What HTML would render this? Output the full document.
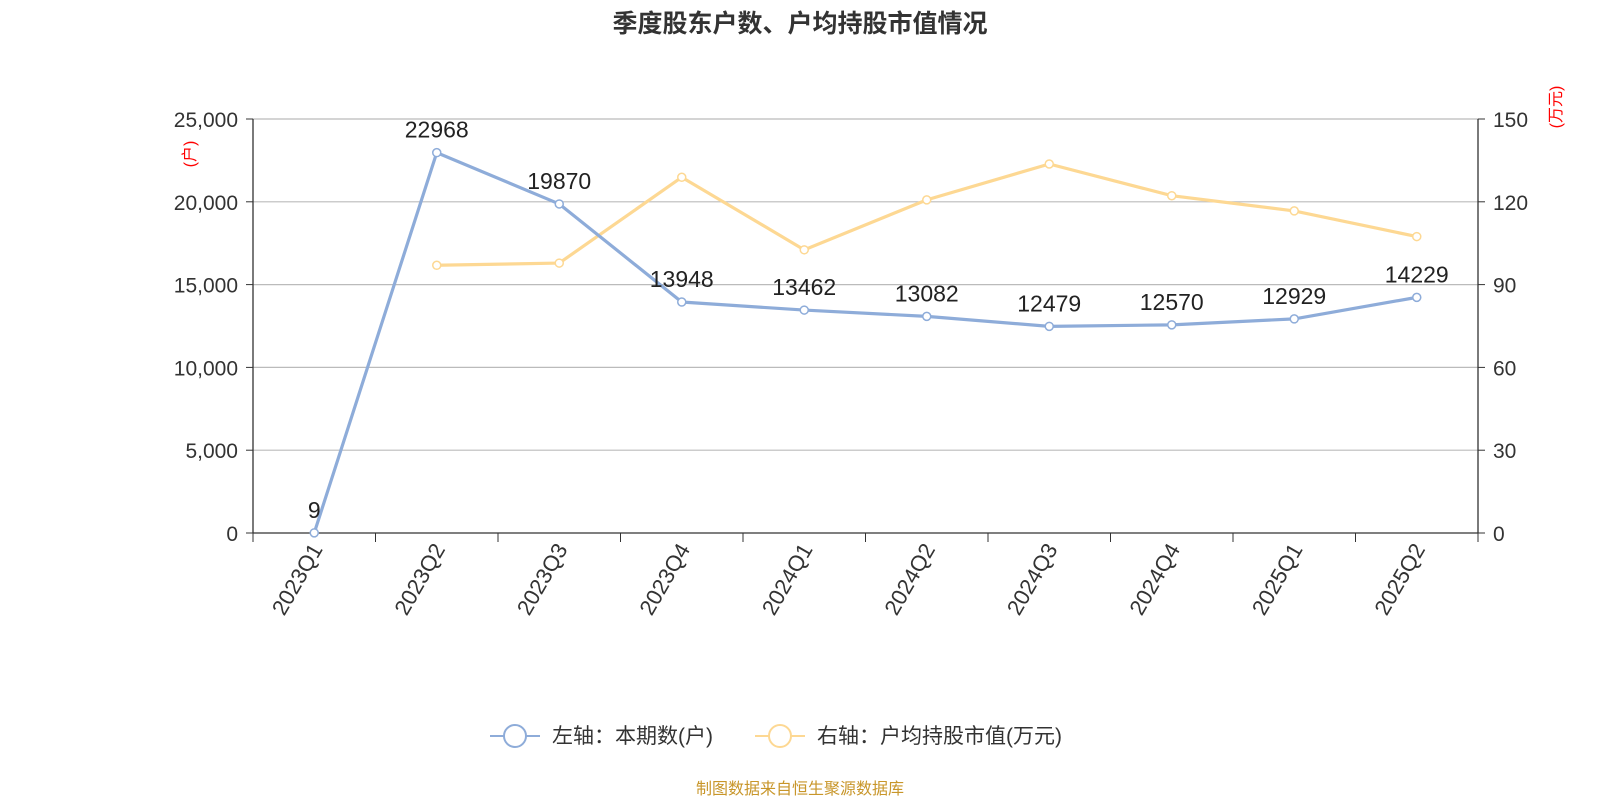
<!DOCTYPE html>
<html><head><meta charset="utf-8"><style>
body{margin:0;background:#fff;}
svg{display:block;font-family:"Liberation Sans","Noto Sans CJK SC",sans-serif;}
</style></head><body>
<svg id="chart" width="1600" height="800">
<text x="800" y="32" text-anchor="middle" font-size="25" font-weight="bold" fill="#333">季度股东户数、户均持股市值情况</text>
<g id="grid"></g><g id="axes"></g><g id="series"></g>
<text transform="translate(195,154) rotate(-90)" text-anchor="middle" font-size="16" fill="#f00">(户)</text>
<text transform="translate(1561,107) rotate(-90)" text-anchor="middle" font-size="16" fill="#f00">(万元)</text>
<g>
<g>
<line x1="490" y1="736" x2="540" y2="736" stroke="#8eacd9" stroke-width="2"/><circle cx="515" cy="736" r="11" fill="#fff" stroke="#8eacd9" stroke-width="2"/>
<text x="552" y="743" font-size="21" fill="#333">左轴：本期数(户)</text></g>
<g>
<line x1="755" y1="736" x2="805" y2="736" stroke="#fdd893" stroke-width="2"/><circle cx="780" cy="736" r="11" fill="#fff" stroke="#fdd893" stroke-width="2"/>
<text x="817" y="743" font-size="21" fill="#333">右轴：户均持股市值(万元)</text></g>
</g>
<text x="800" y="794" text-anchor="middle" font-size="16" fill="#c8962a">制图数据来自恒生聚源数据库</text>
</svg>
<script>
const categories=["2023Q1","2023Q2","2023Q3","2023Q4","2024Q1","2024Q2","2024Q3","2024Q4","2025Q1","2025Q2"];
const households=[9,22968,19870,13948,13462,13082,12479,12570,12929,14229];
const avgValue=[null,97.0,97.8,128.9,102.6,120.7,133.7,122.2,116.7,107.4];
const leftTicks=[0,5000,10000,15000,20000,25000];
const rightTicks=[0,30,60,90,120,150];
const L=253,R=1478,T=119,B=533,NS="http://www.w3.org/2000/svg";
const bw=(R-L)/categories.length;
const x=i=>L+bw*(i+0.5);
const yL=v=>B-(v/25000)*(B-T);
const yR=v=>B-(v/150)*(B-T);
function mk(tag,a,p,txt){const e=document.createElementNS(NS,tag);for(const k in a)e.setAttribute(k,a[k]);if(txt!=null)e.textContent=txt;p.appendChild(e);return e;}
const grid=document.getElementById('grid'),axes=document.getElementById('axes'),ser=document.getElementById('series');
leftTicks.forEach(t=>{
 const y=yL(t);
 if(t>0){const g=mk('line',{x1:L,x2:R,y1:y,y2:y,stroke:'#bbb','stroke-width':1.2},grid);
 
 }
 mk('line',{x1:L-7,x2:L,y1:y,y2:y,stroke:'#333'},axes);
 const lt=mk('text',{x:L-15,y:y+8,'text-anchor':'end','font-size':21,fill:'#333'},axes,t.toLocaleString('en-US'));
 
 
});
rightTicks.forEach(t=>{
 const y=yR(t);
 mk('line',{x1:R,x2:R+7,y1:y,y2:y,stroke:'#333'},axes);
 const rt=mk('text',{x:R+15,y:y+8,'font-size':21,fill:'#333'},axes,t);
 
 
});
mk('line',{x1:L,x2:L,y1:T,y2:B,stroke:'#333','stroke-width':1.3},axes);
mk('line',{x1:R,x2:R,y1:T,y2:B,stroke:'#333','stroke-width':1.3},axes);
mk('line',{x1:L,x2:R,y1:B,y2:B,stroke:'#333','stroke-width':1.3},axes);
for(let i=0;i<=categories.length;i++)mk('line',{x1:L+bw*i,x2:L+bw*i,y1:B,y2:B+9,stroke:'#333'},axes);
categories.forEach((c,i)=>{
 const t=mk('text',{transform:`translate(${x(i)+9},${B+16}) rotate(-60)`,'text-anchor':'end','font-size':22,fill:'#333'},axes,c);
 
 
});
let d='';avgValue.forEach((v,i)=>{if(v==null)return;d+=(d?'L':'M')+x(i)+','+yR(v);});
const p2=mk('path',{d,fill:'none',stroke:'#fdd893','stroke-width':3.2},ser);


avgValue.forEach((v,i)=>{if(v==null)return;const c=mk('circle',{cx:x(i),cy:yR(v),r:4,fill:'#fff',stroke:'#fdd893','stroke-width':1.5},ser);
 
 });
d='';households.forEach((v,i)=>{d+=(i?'L':'M')+x(i)+','+yL(v);});
const p1=mk('path',{d,fill:'none',stroke:'#8eacd9','stroke-width':3.2},ser);


households.forEach((v,i)=>{const c=mk('circle',{cx:x(i),cy:yL(v),r:4,fill:'#fff',stroke:'#8eacd9','stroke-width':1.5},ser);
 
 
 const t=mk('text',{x:x(i),y:yL(v)-15,'text-anchor':'middle','font-size':23,fill:'#222'},ser,v);
 
 });
</script>
</body></html>
